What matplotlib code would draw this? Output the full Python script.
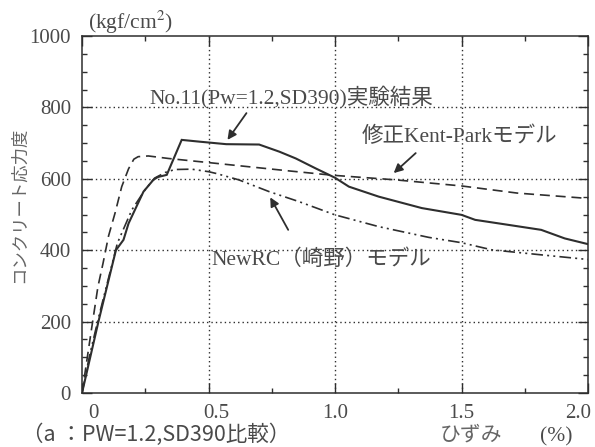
import matplotlib
matplotlib.use("Agg")
import matplotlib.pyplot as plt
import matplotlib.transforms as mtransforms
from matplotlib.ticker import MultipleLocator

# ---------------- data ----------------
strain_exp = [0, 0.065, 0.134, 0.164, 0.184, 0.243, 0.282, 0.300, 0.335, 0.394,
              0.465, 0.57, 0.70, 0.78, 0.845, 0.924, 1.0, 1.055, 1.173, 1.343,
              1.5, 1.554, 1.685, 1.815, 1.908, 2.0]
stress_exp = [0, 200, 400, 429, 475, 564, 597, 605, 611, 709,
              704, 697, 696, 676, 657, 629, 603, 578, 550, 518,
              499, 485, 471, 457, 433, 417]

strain_kp = [0, 0.037, 0.063, 0.083, 0.105, 0.131, 0.157, 0.184, 0.205, 0.222,
             0.262, 0.341, 0.52, 0.82, 0.99, 1.24, 1.5, 1.72, 2.0]
stress_kp = [0, 176, 298, 363, 440, 505, 578, 628, 655, 662,
             664, 657, 644, 622, 610, 597, 580, 560, 545]

strain_nr = [0, 0.03, 0.065, 0.14, 0.197, 0.249, 0.287, 0.33, 0.367, 0.433,
             0.5, 0.53, 0.62, 0.74, 0.858, 1.0, 1.173, 1.37, 1.5, 1.62, 1.815, 2.0]
stress_nr = [0, 105, 210, 420, 513, 569, 602, 618, 626, 627,
             620, 615, 597, 564, 536, 499, 466, 436, 421, 401, 387, 374]

xticks = [0, 0.5, 1.0, 1.5, 2.0]
xticklabels = ["0", "0.5", "1.0", "1.5", "2.0"]
yticks = [0, 200, 400, 600, 800, 1000]
yticklabels = ["0", "200", "400", "600", "800", "1000"]

label_exp = "No.11(Pw=1.2,SD390)実験結果"
label_kp = "修正Kent-Parkモデル"
label_nr = "NewRC（崎野）モデル"

# ---------------- style ----------------
LINE = "#2e2e2e"
TEXT = "#4a4a4a"
SERIF = ["Liberation Serif", "Noto Sans CJK JP"]
SANS = ["Noto Sans CJK JP", "DejaVu Sans"]

fig = plt.figure(figsize=(5.95, 4.47), dpi=100)
ax = fig.add_axes([82/595, 1-393/447, (588-82)/595, (393-36)/447])

ax.plot(strain_exp, stress_exp, color=LINE, lw=1.5, solid_joinstyle="miter")
ax.plot(strain_kp, stress_kp, color=LINE, lw=1.2, dashes=(6, 3.5))
ax.plot(strain_nr, stress_nr, color=LINE, lw=1.2, dashes=(7, 2.5, 1.2, 2.5, 1.2, 2.5))

ax.set_xlim(0, 2.0)
ax.set_ylim(0, 1000)
ax.set_xticks(xticks)
ax.set_xticklabels(xticklabels)
ax.set_yticks(yticks)
ax.set_yticklabels(yticklabels)
ax.xaxis.set_minor_locator(MultipleLocator(0.25))
ax.yaxis.set_minor_locator(MultipleLocator(50))
ax.tick_params(which="both", direction="in", top=True, right=True, colors=LINE,
               labelcolor=TEXT)
ax.tick_params(which="major", length=7, width=1.0, labelsize=15, pad=8)
ax.tick_params(which="minor", length=3.5, width=1.0)
for lab in ax.get_xticklabels() + ax.get_yticklabels():
    lab.set_fontfamily(SERIF)

# shift a few x tick labels like the reference
offsets = {0: 11, 1: 8, 4: -10}
for i, lab in enumerate(ax.get_xticklabels()):
    if i in offsets:
        lab.set_transform(lab.get_transform() +
                          mtransforms.ScaledTranslation(offsets[i]/100, 0, fig.dpi_scale_trans))

for s in ax.spines.values():
    s.set_color(LINE)
    s.set_linewidth(1.1)

for gx in [0.5, 1.0, 1.5]:
    ax.axvline(gx, color=LINE, lw=1.0, linestyle=(0, (1, 2.2)), zorder=0)
for gy in [200, 400, 600, 800]:
    ax.axhline(gy, color=LINE, lw=1.0, linestyle=(0, (1, 2.2)), zorder=0)

# annotations
ax.text(0.268, 829, label_exp, family=SERIF, fontsize=15.5, color=TEXT,
        ha="left", va="center")
ax.text(1.106, 717, label_kp, family=SERIF, fontsize=15.5, color=TEXT,
        ha="left", va="center")
ax.text(0.512, 373, label_nr, family=SERIF, fontsize=15.5, color=TEXT,
        ha="left", va="center")

arrow = dict(arrowstyle="-|>", color=LINE, lw=1.3, mutation_scale=13,
             shrinkA=0, shrinkB=0)
ax.annotate("", xy=(0.575, 709), xytext=(0.65, 784), arrowprops=arrow)
ax.annotate("", xy=(1.232, 616), xytext=(1.319, 672), arrowprops=arrow)
ax.annotate("", xy=(0.744, 548), xytext=(0.815, 457), arrowprops=arrow)

# outside texts
fig.text(88/595, 1-22/447, "(kgf/cm$^2$)", family=SERIF, fontsize=15.5, color=TEXT,
         ha="left", va="center", math_fontfamily="stix")
fig.text(19/595, 1-205/447, "コンクリート応力度", family=SANS, fontsize=12.5,
         color="#666666", rotation=90, ha="center", va="center")
fig.text(22/595, 1-441/447, "（a ：PW=1.2,SD390比較）", family=SANS, fontsize=15.5,
         color=TEXT, ha="left", va="baseline")
fig.text(440/595, 1-441/447, "ひずみ", family=SANS, fontsize=15, color="#666666",
         ha="left", va="baseline")
fig.text(540/595, 1-441/447, "(%)", family=SERIF, fontsize=15.5, color=TEXT,
         ha="left", va="baseline")

fig.savefig("out.png", dpi=100)
